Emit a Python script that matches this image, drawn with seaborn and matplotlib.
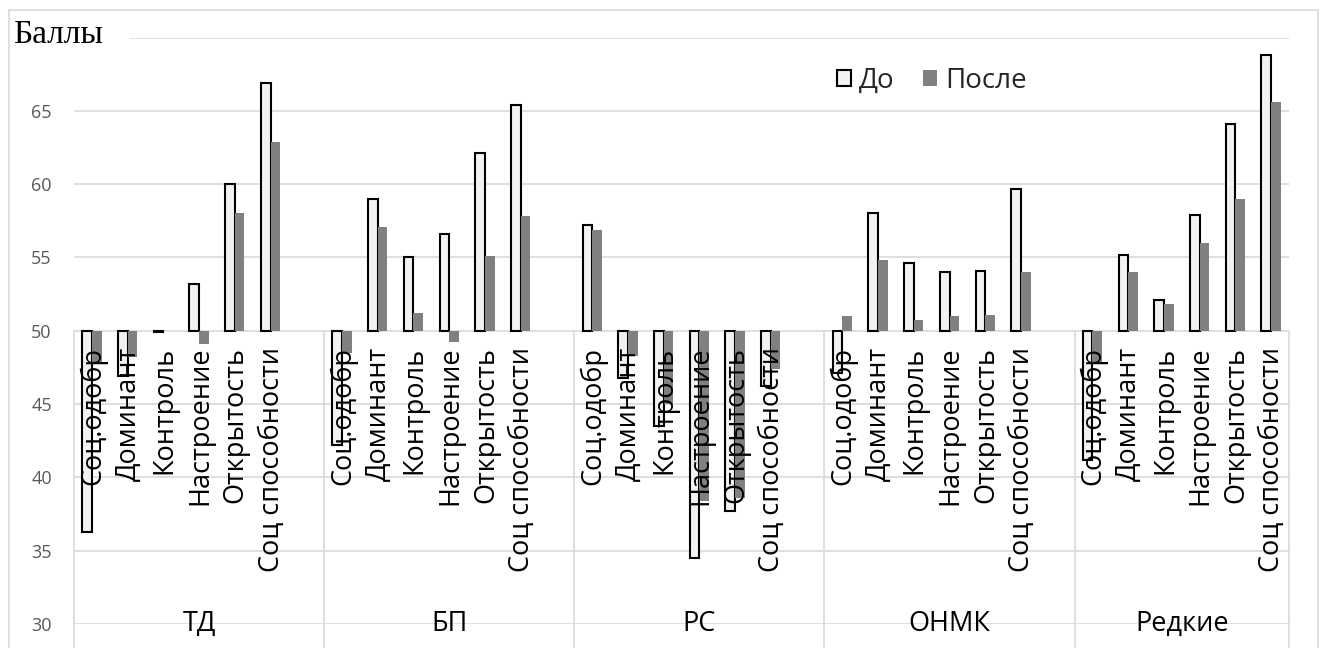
import matplotlib
matplotlib.use("Agg")
import matplotlib.pyplot as plt
from matplotlib.patches import Rectangle
import pandas as pd
import seaborn as sns

# Groups of patients and personality scales
groups = ["ТД", "БП", "РС", "ОНМК", "Редкие"]
scales = ["Соц.одобр", "Доминант", "Контроль", "Настроение", "Открытость", "Соц способности"]
periods = ["До", "После"]

# Scores before / after, per group (same order as scales)
td_before = [36.3, 46.9, 49.9, 53.2, 60.0, 66.9]
td_after = [47.9, 48.2, 49.95, 49.1, 58.0, 62.9]
bp_before = [42.2, 59.0, 55.0, 56.6, 62.1, 65.4]
bp_after = [48.5, 57.1, 51.2, 49.2, 55.1, 57.8]
rs_before = [57.2, 46.8, 43.5, 34.5, 37.7, 46.2]
rs_after = [56.9, 48.3, 45.0, 38.4, 38.6, 47.4]
onmk_before = [47.1, 58.0, 54.6, 54.0, 54.1, 59.7]
onmk_after = [51.0, 54.8, 50.7, 51.0, 51.1, 54.0]
rare_before = [41.2, 55.2, 52.1, 57.9, 64.1, 68.8]
rare_after = [47.8, 54.0, 51.8, 56.0, 59.0, 65.6]

baseline = 50
y_ticks = [30, 35, 40, 45, 50, 55, 60, 65]
y_min, y_max = 30, 70

before_all = [td_before, bp_before, rs_before, onmk_before, rare_before]
after_all = [td_after, bp_after, rs_after, onmk_after, rare_after]

# Category slots: six scales per group plus an empty spacer slot between groups
order = []
for gi, g in enumerate(groups):
    for s in scales:
        order.append(f"{g}|{s}")
    if gi < len(groups) - 1:
        order.append(f"{g}|")

rows = []
for g, b, a in zip(groups, before_all, after_all):
    for s, vb, va in zip(scales, b, a):
        rows.append({"slot": f"{g}|{s}", "Период": "До", "value": vb})
        rows.append({"slot": f"{g}|{s}", "Период": "После", "value": va})
df = pd.DataFrame(rows)
df["delta"] = df["value"] - baseline

sns.set_theme(style="white")
plt.rcParams["font.family"] = ["Open Sans", "DejaVu Sans"]

W, H = 1322, 648
fig = plt.figure(figsize=(W / 100, H / 100), dpi=100)
x0, x1, ytop, ybot = 74, 1289, 37.5, 624
ax = fig.add_axes([x0 / W, 1 - ybot / H, (x1 - x0) / W, (ybot - ytop) / H])

grid_c = "#D9D9D9"
for yv in range(y_min, y_max + 1, 5):
    ax.axhline(yv, color=grid_c, lw=1.2, zorder=0)

sns.barplot(
    data=df, x="slot", y="delta", hue="Период", order=order, hue_order=periods,
    palette={"До": "#F2F2F2", "После": "#808080"}, width=0.54, bottom=baseline,
    errorbar=None, saturation=1, legend=False, ax=ax, zorder=2,
)
for cont, period in zip(ax.containers, periods):
    for bar in cont:
        if period == "До":
            bar.set_edgecolor("black")
            bar.set_linewidth(1.5)
        else:
            bar.set_edgecolor("none")

ax.set_xlim(-0.5, len(order) - 0.5)
ax.set_ylim(y_min, y_max)
for sp in ax.spines.values():
    sp.set_visible(False)
ax.set_xlabel("")
ax.set_ylabel("")
ax.set_xticks([])
ax.set_yticks(y_ticks)
ax.set_yticklabels([str(t) for t in y_ticks], color="#595959", fontsize=13)
ax.tick_params(axis="y", length=0, pad=16)

# Group separators of the category axis
bounds = [-0.5]
for gi in range(len(groups)):
    bounds.append(bounds[-1] + (7 if gi < len(groups) - 1 else 6))
for xb in bounds:
    ax.plot([xb, xb], [baseline, 27.5], color=grid_c, lw=1.2, clip_on=False, zorder=1)

# Scale labels under the axis line
for i, key in enumerate(order):
    g, s = key.split("|")
    if not s:
        continue
    ax.annotate(s, xy=(i, baseline), xytext=(1, -16), textcoords="offset pixels",
                rotation=90, ha="center", va="top", fontsize=19.5, color="black",
                zorder=5, annotation_clip=False)

# Group labels
for gi, g in enumerate(groups):
    xc = (bounds[gi] + bounds[gi + 1]) / 2
    ax.text(xc, y_min, g, ha="center", va="center", fontsize=19.5, color="black",
            zorder=5, clip_on=False)

# Legend
handles = [
    Rectangle((0, 0), 1, 1, facecolor="#F2F2F2", edgecolor="black", lw=1.5),
    Rectangle((0, 0), 1, 1, facecolor="#808080", edgecolor="none"),
]
fig.legend(handles, periods, loc="center left", bbox_to_anchor=(826 / W, 1 - 81 / H),
           ncol=2, frameon=False, fontsize=20, handlelength=0.5, handleheight=0.5,
           handletextpad=0.3, columnspacing=1.0, borderaxespad=0)

# Chart border and axis title
fig.patches.append(Rectangle((9 / W, -0.05), (1318 - 9) / W, 1.05 - 10 / H,
                             transform=fig.transFigure, facecolor="none",
                             edgecolor=grid_c, lw=1.2, zorder=0))
fig.patches.append(Rectangle((70 / W, 1 - 50 / H), 60 / W, 25 / H,
                             transform=fig.transFigure, facecolor="white",
                             edgecolor="none", zorder=3))
fig.text(13 / W, 1 - 35 / H, "Баллы", family=["Liberation Serif", "DejaVu Serif"],
         fontsize=24, ha="left", va="center", color="black", zorder=4)

fig.savefig("out.png", dpi=100, facecolor="white")
